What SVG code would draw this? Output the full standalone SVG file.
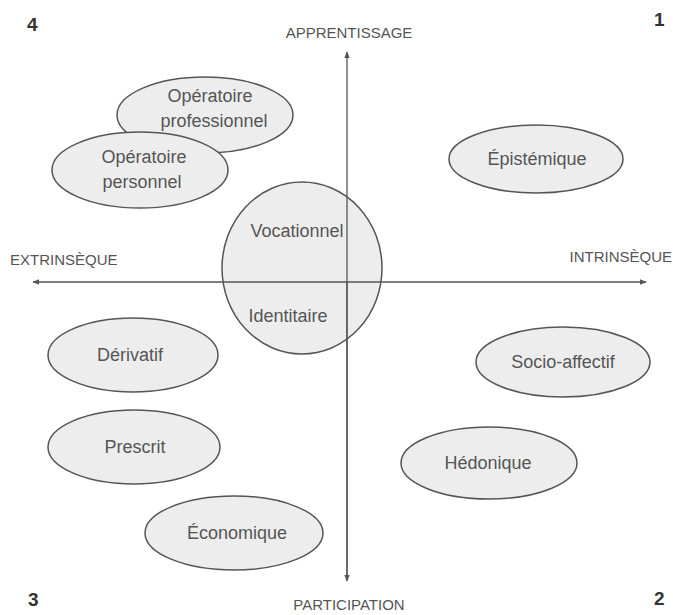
<svg xmlns="http://www.w3.org/2000/svg" width="673" height="615" viewBox="0 0 673 615">
<style>
.n ellipse{fill:#ededed;stroke:#555;stroke-width:1.5}
.n text{font-family:"Liberation Sans",Arial,sans-serif;font-size:18px;fill:#555;text-anchor:middle}
.ax{font-family:"Liberation Sans",Arial,sans-serif;font-size:15px;fill:#555}
.num{font-family:"Liberation Sans",Arial,sans-serif;font-size:19px;fill:#333;font-weight:bold}
.c line{stroke:#555;stroke-width:1.3}
</style>
<defs>
<marker id="ah" viewBox="0 0 10 10" refX="9" refY="5" markerWidth="7" markerHeight="7" orient="auto-start-reverse" markerUnits="userSpaceOnUse">
<path d="M0,1 L10,5 L0,9 z" fill="#555"/>
</marker>
</defs>
<rect width="673" height="615" fill="#fff"/>
<text class="num" x="27" y="31">4</text>
<text class="num" x="654" y="26">1</text>
<text class="num" x="28" y="606">3</text>
<text class="num" x="654" y="605">2</text>
<text class="ax" x="349" y="38" text-anchor="middle">APPRENTISSAGE</text>
<text class="ax" x="349" y="610" text-anchor="middle">PARTICIPATION</text>
<text class="ax" x="10" y="265">EXTRINSÈQUE</text>
<text class="ax" x="672" y="262" text-anchor="end">INTRINSÈQUE</text>
<g id="n-vocationnel" class="n"><ellipse cx="302" cy="268" rx="80" ry="86"/><text x="297" y="237">Vocationnel</text><text x="288" y="322">Identitaire</text></g>
<g class="c">
<line x1="347" y1="580" x2="347" y2="52" marker-end="url(#ah)"/>
<line x1="347" y1="282" x2="347" y2="581" marker-end="url(#ah)"/>
<line x1="33" y1="282" x2="646" y2="282" marker-start="url(#ah)" marker-end="url(#ah)"/>
</g>
<g id="n-opprof" class="n"><ellipse cx="205" cy="115" rx="88" ry="38"/><text x="210" y="102">Opératoire</text><text x="214" y="127">professionnel</text></g>
<g id="n-opperso" class="n"><ellipse cx="140" cy="170" rx="88" ry="38"/><text x="144" y="163">Opératoire</text><text x="142" y="188">personnel</text></g>
<g id="n-epistemique" class="n"><ellipse cx="536" cy="159" rx="87" ry="34"/><text x="537" y="165">Épistémique</text></g>
<g id="n-derivatif" class="n"><ellipse cx="133" cy="355" rx="85" ry="37"/><text x="130" y="361">Dérivatif</text></g>
<g id="n-socio" class="n"><ellipse cx="563" cy="362" rx="87" ry="35"/><text x="563" y="368">Socio-affectif</text></g>
<g id="n-prescrit" class="n"><ellipse cx="134" cy="447" rx="86" ry="37"/><text x="135" y="453">Prescrit</text></g>
<g id="n-hedonique" class="n"><ellipse cx="489" cy="463" rx="88" ry="36"/><text x="488" y="469">Hédonique</text></g>
<g id="n-economique" class="n"><ellipse cx="234" cy="533" rx="89" ry="37"/><text x="237" y="539">Économique</text></g>
</svg>
